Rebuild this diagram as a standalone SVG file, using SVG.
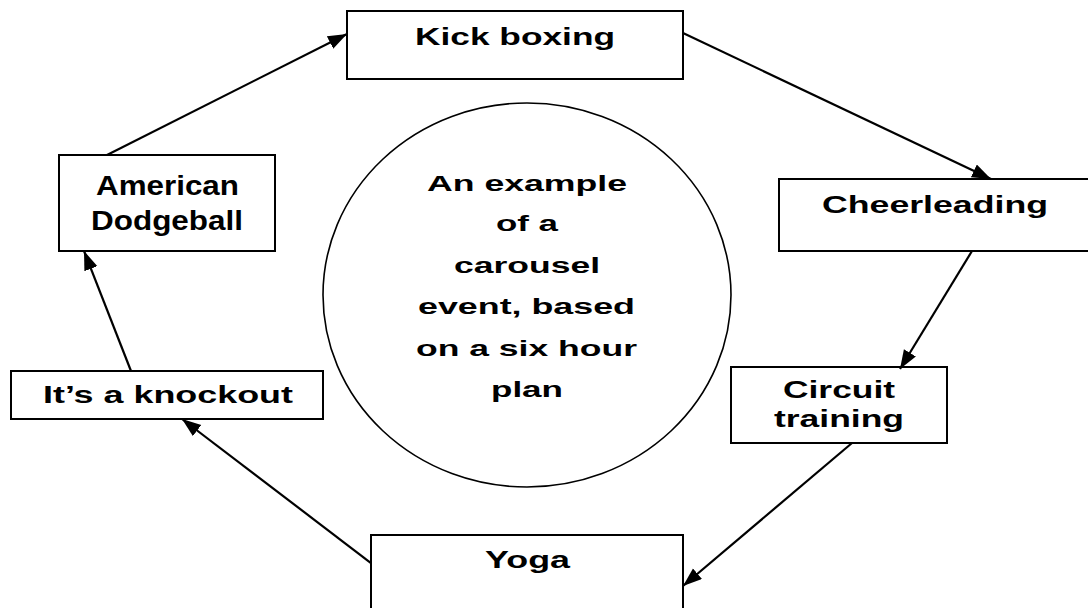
<svg xmlns="http://www.w3.org/2000/svg" width="1088" height="608" viewBox="0 0 1088 608">
  <defs>
    <style>
      .box { fill: #ffffff; stroke: #000000; stroke-width: 2; }
      .hub { fill: #ffffff; stroke: #000000; stroke-width: 1.6; }
      .lbl { font-family: "Liberation Sans", Arial, sans-serif; font-weight: bold; font-size: 23px; fill: #000000; }
      .big { font-size: 28px; }
      .mid { font-size: 22px; }
      .conn { stroke: #000000; stroke-width: 2.2; fill: none; marker-end: url(#arrow); }
    </style>
    <marker id="arrow" markerUnits="userSpaceOnUse" markerWidth="22" markerHeight="16" refX="19" refY="7" orient="auto">
      <path d="M0,0 L19,7 L0,14 z" fill="#000000"/>
    </marker>
  </defs>
  <rect width="1088" height="608" fill="#ffffff"/>

  <g id="center">
    <ellipse class="hub" cx="527" cy="295" rx="204" ry="192"/>
    <text class="lbl mid" x="427" y="191" textLength="200" lengthAdjust="spacingAndGlyphs">An example</text>
    <text class="lbl mid" x="496" y="231" textLength="62" lengthAdjust="spacingAndGlyphs">of a</text>
    <text class="lbl mid" x="454" y="273" textLength="146" lengthAdjust="spacingAndGlyphs">carousel</text>
    <text class="lbl mid" x="418" y="314" textLength="217" lengthAdjust="spacingAndGlyphs">event, based</text>
    <text class="lbl mid" x="416" y="356" textLength="221" lengthAdjust="spacingAndGlyphs">on a six hour</text>
    <text class="lbl mid" x="491" y="397" textLength="72" lengthAdjust="spacingAndGlyphs">plan</text>
  </g>

  <g id="kick-boxing">
    <rect class="box" x="347" y="11" width="336" height="68"/>
    <text class="lbl" x="415" y="45" textLength="200" lengthAdjust="spacingAndGlyphs">Kick boxing</text>
  </g>

  <g id="cheerleading">
    <rect class="box" x="779" y="179" width="312" height="72"/>
    <text class="lbl" x="822" y="213" textLength="226" lengthAdjust="spacingAndGlyphs">Cheerleading</text>
  </g>

  <g id="circuit-training">
    <rect class="box" x="731" y="367" width="216" height="76"/>
    <text class="lbl" x="783" y="398" textLength="112" lengthAdjust="spacingAndGlyphs">Circuit</text>
    <text class="lbl" x="774" y="427" textLength="130" lengthAdjust="spacingAndGlyphs">training</text>
  </g>

  <g id="yoga">
    <rect class="box" x="371" y="535" width="312" height="80"/>
    <text class="lbl" x="485" y="568" textLength="85" lengthAdjust="spacingAndGlyphs">Yoga</text>
  </g>

  <g id="knockout">
    <rect class="box" x="11" y="371" width="312" height="48"/>
    <text class="lbl" x="43" y="403" textLength="250" lengthAdjust="spacingAndGlyphs">It’s a knockout</text>
  </g>

  <g id="dodgeball">
    <rect class="box" x="59" y="155" width="216" height="96"/>
    <text class="lbl big" x="96" y="195" textLength="143" lengthAdjust="spacingAndGlyphs">American</text>
    <text class="lbl big" x="91" y="230" textLength="152" lengthAdjust="spacingAndGlyphs">Dodgeball</text>
  </g>

  <g id="connectors">
    <line class="conn" x1="107" y1="155" x2="347" y2="34"/>
    <line class="conn" x1="683" y1="33" x2="991" y2="179"/>
    <line class="conn" x1="972" y1="251" x2="900" y2="369"/>
    <line class="conn" x1="852" y1="443" x2="683" y2="586"/>
    <line class="conn" x1="371" y1="563" x2="182" y2="419"/>
    <line class="conn" x1="131" y1="371" x2="84" y2="251"/>
  </g>
</svg>
